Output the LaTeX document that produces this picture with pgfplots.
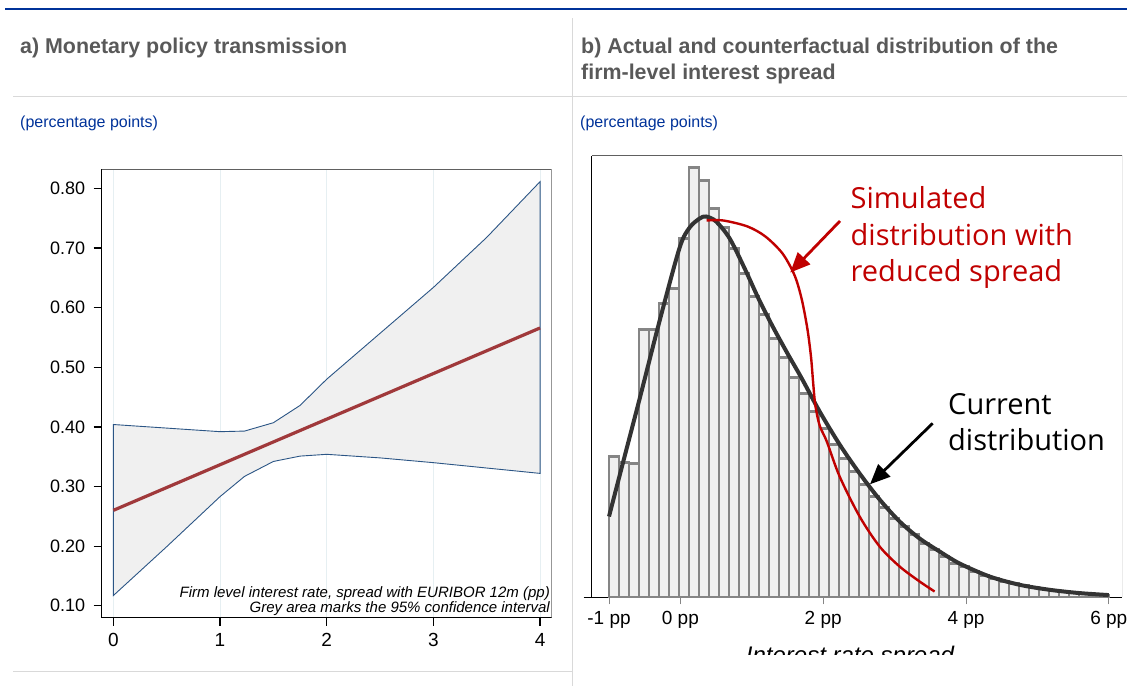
\documentclass[border=0pt]{standalone}
\usepackage{fontspec}
\setmainfont{Liberation Sans}
\newfontfamily\osans{Open Sans}
\usepackage{pgfplots}
\pgfplotsset{compat=1.18}
\usetikzlibrary{arrows.meta}

\definecolor{ecbblue}{HTML}{003299}
\definecolor{titlegrey}{HTML}{595959}
\definecolor{rulegrey}{HTML}{D9D9D9}
\definecolor{bandgrey}{HTML}{F0F0F0}
\definecolor{bandblue}{HTML}{2B5585}
\definecolor{fitred}{HTML}{A0393B}
\definecolor{gridblue}{HTML}{E6EFF2}
\definecolor{baredge}{HTML}{858585}
\definecolor{curvedark}{HTML}{333333}
\definecolor{simred}{HTML}{C00000}
\definecolor{framegrey}{HTML}{606060}

\newcommand{\fs}[2]{\fontsize{#1bp}{#2bp}\selectfont}

\begin{document}
\begin{tikzpicture}[x=1bp,y=1bp]
\useasboundingbox (0,0) rectangle (1127,686);

% page rules
\draw[ecbblue, line width=2bp] (5,677) -- (1127,677);
\draw[rulegrey, line width=1.5bp] (13,589.3) -- (1127,589.3);
\draw[rulegrey, line width=1bp] (572,0) -- (572,668);
\draw[rulegrey, line width=1bp] (13,14.3) -- (572,14.3);

% titles
\node[anchor=base west, inner sep=0, text=titlegrey, font=\fs{21.4}{26}\bfseries] at (20,632.7) {a) Monetary policy transmission};
\node[anchor=base west, inner sep=0, text=titlegrey, font=\fs{21.4}{26}\bfseries] at (581,632.7) {b) Actual and counterfactual distribution of the};
\node[anchor=base west, inner sep=0, text=titlegrey, font=\fs{21.4}{26}\bfseries] at (581,606.7) {firm-level interest spread};
\node[anchor=base west, inner sep=0, text=ecbblue, font=\fs{16}{19}] at (20,558.5) {(percentage points)};
\node[anchor=base west, inner sep=0, text=ecbblue, font=\fs{16}{19}] at (580,558.5) {(percentage points)};

% ---- panel a: fitted spread with confidence band
\begin{scope}[shift={(101.7bp,68.3bp)}]
\begin{axis}[
    anchor=south west,
    scale only axis, width=450bp, height=448.4bp,
    xmin=-0.109, xmax=4.109, ymin=0.0799, ymax=0.8322,
    axis lines*=left,
    axis line style={-, black, line width=1.5bp},
    tick align=outside, major tick length=8bp,
    tick style={black, line width=1.2bp},
    xtick={0,1,2,3,4}, xticklabels={0,1,2,3,4},
    ytick={0.1,0.2,0.3,0.4,0.5,0.6,0.7,0.8},
    yticklabels={0.10,0.20,0.30,0.40,0.50,0.60,0.70,0.80},
    /pgf/number format/assume math mode=true,
    xticklabel style={font=\fs{19}{22}, yshift=-4bp},
    yticklabel style={font=\fs{18}{20}, xshift=-5bp},
    xmajorgrids, grid style={gridblue, line width=1bp},
]
\addplot[draw=bandblue, line width=0.9bp, fill=bandgrey] coordinates {
    (0,0.404) (0.5,0.398) (1,0.392) (1.23,0.393) (1.5,0.407) (1.75,0.436)
    (2,0.480) (2.5,0.557) (3,0.634) (3.5,0.718) (4,0.8115)
    (4,0.322) (3.5,0.331) (3,0.340) (2.5,0.348) (2,0.354) (1.75,0.351)
    (1.5,0.342) (1.23,0.317) (1,0.283) (0.5,0.199) (0,0.117)
} -- cycle;
\addplot[fitred, line width=3.2bp] coordinates {(0,0.260) (4,0.566)};
\draw[framegrey, line width=1bp] (rel axis cs:0,1) -- (rel axis cs:1,1) -- (rel axis cs:1,0);
\end{axis}
\end{scope}
\node[anchor=base east, inner sep=0, font=\fs{15}{15}\itshape] at (550,88.5) {Firm level interest rate, spread with EURIBOR 12m (pp)};
\node[anchor=base east, inner sep=0, font=\fs{15}{15}\itshape] at (550,73.5) {Grey area marks the 95\% confidence interval};

% ---- panel b: histogram with current and simulated densities
\begin{scope}[shift={(591.5bp,88.5bp)}]
\begin{axis}[
    anchor=south west,
    scale only axis, width=530.5bp, height=441.5bp,
    xmin=-1.245, xmax=6.185, ymin=0, ymax=441.5,
    axis lines*=left,
    axis line style={-, black, line width=1.8bp},
    tick align=outside, major tick length=7bp,
    x tick style={baredge, line width=1bp},
    ytick=\empty,
    xtick={-1,0,2,4,6}, xticklabels={-1 pp,0 pp,2 pp,4 pp,6 pp},
    xticklabel style={font=\fs{19}{22}, yshift=-3bp},
]
\addplot[ybar, bar width=0.14, bar shift=0pt, fill=bandgrey, draw=baredge, line width=2.1bp] coordinates {
    (-0.93,141) (-0.79,135) (-0.65,134) (-0.51,268) (-0.37,268)
    (-0.23,294) (-0.09,309) (0.05,359) (0.19,430) (0.33,417)
    (0.47,389) (0.61,370) (0.75,349) (0.89,324) (1.03,301)
    (1.17,283) (1.31,259) (1.45,240) (1.59,220) (1.73,204)
    (1.87,186) (2.01,169) (2.15,153) (2.29,139) (2.43,126)
    (2.57,113) (2.71,101) (2.85,90) (2.99,79) (3.13,71)
    (3.27,63) (3.41,54) (3.55,48) (3.69,41) (3.83,34)
    (3.97,31) (4.11,26) (4.25,22) (4.39,19) (4.53,16)
    (4.67,14) (4.81,12) (4.95,10) (5.09,8.4) (5.23,7)
    (5.37,5.4) (5.51,4.4) (5.65,3.7) (5.79,3) (5.93,2.4)
};
\addplot[curvedark, line width=4bp, smooth] coordinates {
    (-1.0,81) (-0.80,136) (-0.57,199) (-0.29,277) (-0.01,350)
    (0.13,370) (0.27,379) (0.36,381) (0.50,376) (0.69,359) (0.90,329)
    (1.10,298) (1.30,270) (1.50,244) (1.70,219) (1.95,186) (2.23,153)
    (2.51,124) (2.79,98) (3.07,76) (3.35,59) (3.63,46) (3.91,34)
    (4.33,21) (4.75,12.7) (5.17,7.7) (5.59,4.4) (6.0,2.4)
};
\addplot[simred, line width=2.4bp, smooth, tension=0.5] coordinates {
    (0.366,377) (0.60,377) (0.94,371) (1.19,361) (1.43,344) (1.60,322)
    (1.70,298) (1.78,268) (1.83,240) (1.86,214) (1.89,192) (1.95,172)
    (2.05,156) (2.23,121) (2.51,81) (2.79,51) (3.07,31) (3.35,16) (3.56,6)
};
\draw[framegrey, line width=1bp] (rel axis cs:0,1) -- (rel axis cs:1,1) -- (rel axis cs:1,0);
\end{axis}
\end{scope}
\draw[black, line width=1.8bp] (583.5,88.5) -- (591.5,88.5);

% annotations
\draw[simred, line width=2.8bp, -{Triangle[length=20bp,width=17bp]}] (840,465) -- (790.2,413.4);
\draw[black, line width=2.8bp, -{Triangle[length=20bp,width=17bp]}] (932.7,262.7) -- (870,201.7);
\node[anchor=base west, inner sep=0, text=simred, font=\osans\fs{29}{35}] at (850.5,477) {Simulated};
\node[anchor=base west, inner sep=0, text=simred, font=\osans\fs{29}{35}] at (850.5,440.5) {distribution with};
\node[anchor=base west, inner sep=0, text=simred, font=\osans\fs{29}{35}] at (850.5,404) {reduced spread};
\node[anchor=base west, inner sep=0, font=\osans\fs{29}{35}] at (948,271) {Current};
\node[anchor=base west, inner sep=0, font=\osans\fs{29}{35}] at (948,235) {distribution};

% x title, cut off at the bottom as in the source
\begin{scope}
\clip (574,31) rectangle (1127,50);
\node[anchor=base, inner sep=0, font=\fs{24}{28}\itshape] at (850,22.3) {Interest rate spread};
\end{scope}
\end{tikzpicture}
\end{document}
